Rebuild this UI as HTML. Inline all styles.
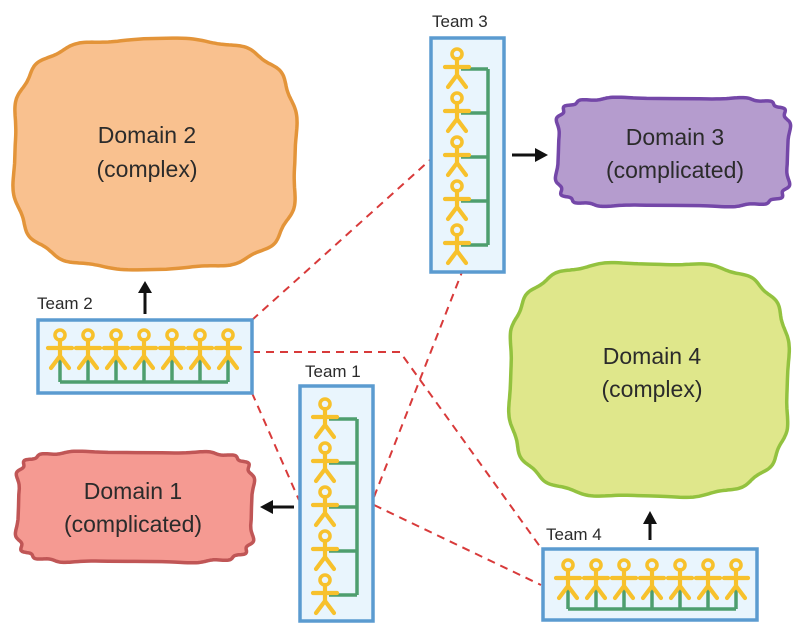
<!DOCTYPE html>
<html><head><meta charset="utf-8">
<style>
html,body{margin:0;padding:0;background:#fff;}
svg{display:block;}
text{font-family:"Liberation Sans",sans-serif;fill:#2b2b2b;}
</style></head>
<body>
<svg id="s" width="802" height="638" viewBox="0 0 802 638" xmlns="http://www.w3.org/2000/svg">
<g id="clouds"></g>
<g fill="none" stroke="#d83a3a" stroke-width="2" stroke-dasharray="8,6">
<line x1="252" y1="320" x2="430" y2="160"/>
<polyline points="252,352 400,352 541,548"/>
<line x1="252" y1="393" x2="299" y2="500"/>
<line x1="374" y1="497" x2="462" y2="272"/>
<line x1="374" y1="505" x2="541" y2="585"/>
</g>
<g stroke="#111" stroke-width="3" fill="#111">
<line x1="145" y1="314" x2="145" y2="292"/><polygon points="138,293 152,293 145,281" stroke="none"/>
<line x1="512" y1="155" x2="536" y2="155"/><polygon points="535,148 535,162 548,155" stroke="none"/>
<line x1="294" y1="507" x2="272" y2="507"/><polygon points="273,500 273,514 260,507" stroke="none"/>
<line x1="650" y1="540" x2="650" y2="523"/><polygon points="643,524 657,524 650,511" stroke="none"/>
</g>
<g fill="#e9f5fd" stroke="#5b9bd0" stroke-width="3.5">
<rect x="431" y="38" width="73" height="234"/>
<rect x="38" y="320" width="214" height="73"/>
<rect x="300" y="386" width="73" height="235"/>
<rect x="543" y="549" width="214" height="71"/>
</g>
<g id="figs"></g>
<g font-size="17">
<text x="432" y="27">Team 3</text>
<text x="37" y="309">Team 2</text>
<text x="305" y="377">Team 1</text>
<text x="546" y="540">Team 4</text>
</g>
<g font-size="23" text-anchor="middle">
<text x="147" y="143">Domain 2</text><text x="147" y="177">(complex)</text>
<text x="675" y="145">Domain 3</text><text x="675" y="178">(complicated)</text>
<text x="652" y="364">Domain 4</text><text x="652" y="397">(complex)</text>
<text x="133" y="499">Domain 1</text><text x="133" y="532">(complicated)</text>
</g>
</svg>
<script>
var NS="http://www.w3.org/2000/svg";
function el(p,t,a){var e=document.createElementNS(NS,t);for(var k in a)e.setAttribute(k,a[k]);p.appendChild(e);return e;}
var C=document.getElementById('clouds');
function cloud(cx,cy,a,b,n,waves,amp,fill,stroke){
 var d="";var N=360;
 for(var i=0;i<=N;i++){var t=i/N*2*Math.PI;var c=Math.cos(t),s=Math.sin(t);
  var x=Math.sign(c)*Math.pow(Math.abs(c),2/n),y=Math.sign(s)*Math.pow(Math.abs(s),2/n);
  var r=1-amp*(0.5+0.5*Math.sin(waves*t+0.7));
  var px=cx+a*x*r,py=cy+b*y*r;d+=(i?"L":"M")+px.toFixed(1)+","+py.toFixed(1);}
 el(C,'path',{d:d+"Z",fill:fill,stroke:stroke,'stroke-width':3.5});
}
cloud(155,154,143,116,3.2,14,0.025,"#f9c18f","#e39439");
cloud(649,380,141,118,3.2,16,0.022,"#dfe78b","#93c23f");
cloud(673,152,118,55,5.5,16,0.035,"#b59cce","#7447a8");
cloud(135,507,120,56,5.5,16,0.035,"#f59a92","#c05656");
var F=document.getElementById('figs');
var Y="#f7c12c",G="#4e9e6e";
function fig(x,hy){
 el(F,'circle',{cx:x,cy:hy,r:5,fill:"none",stroke:Y,'stroke-width':3.6});
 el(F,'path',{d:"M"+x+","+(hy+5)+"V"+(hy+21)+"M"+(x-12)+","+(hy+13)+"H"+(x+12)+"M"+(x-9)+","+(hy+33)+"L"+x+","+(hy+21)+"L"+(x+9)+","+(hy+33),fill:"none",stroke:Y,'stroke-width':4.2,'stroke-linecap':'round'});
}
function hteam(x0,hy,by){
 var d="M"+x0+","+by+"H"+(x0+168);
 for(var i=0;i<7;i++){var x=x0+28*i;d+="M"+x+","+(hy+21)+"V"+by;}
 el(F,'path',{d:d,fill:"none",stroke:G,'stroke-width':3.5});
 for(var i=0;i<7;i++)fig(x0+28*i,hy);
}
function vteam(x,hy0,bx){
 var d="M"+bx+","+(hy0+15)+"V"+(hy0+15+44*4);
 for(var i=0;i<5;i++){var y=hy0+15+44*i;d+="M"+(x+4)+","+y+"H"+bx;}
 el(F,'path',{d:d,fill:"none",stroke:G,'stroke-width':3.5});
 for(var i=0;i<5;i++)fig(x,hy0+44*i);
}
hteam(60,335,382);
hteam(568,565,609);
vteam(325,404,357);
vteam(457,54,488);
</script>
</body></html>
